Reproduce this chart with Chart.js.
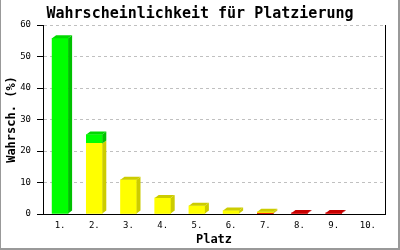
<!DOCTYPE html>
<html>
<head>
<meta charset="utf-8">
<script src="https://cdn.jsdelivr.net/npm/chart.js@4/dist/chart.umd.min.js"></script>
<style>
  html, body { margin: 0; padding: 0; background: #fff; }
  #wrap {
    position: relative; width: 400px; height: 250px; box-sizing: border-box;
    border-left: 1px solid #999; border-right: 2px solid #999; border-bottom: 2px solid #999;
  }
  #chart { position: absolute; left: -1px; top: 0; }
</style>
</head>
<body>
<div id="wrap"><canvas id="chart" width="400" height="250"></canvas></div>
<script>
const places = ['1.', '2.', '3.', '4.', '5.', '6.', '7.', '8.', '9.', '10.'];
const redVals = [0, 0, 0, 0, 0, 0, 0.25, 0.35, 0.35, 0];
const yellowVals = [0, 22.4, 10.9, 5.1, 2.6, 1.1, 0.45, 0, 0, 0];
const greenVals = [55.8, 2.8, 0, 0, 0, 0, 0, 0, 0, 0];
const yTicks = [0, 10, 20, 30, 40, 50, 60];

const mono = "'DejaVu Sans Mono', 'Liberation Mono', monospace";

// darker faces for the fake 3d look
const faces = [
  { side: '#b00000', top: '#c80000' },
  { side: '#cccc00', top: '#cccc00' },
  { side: '#00c000', top: '#00d800' },
];

const bar3d = {
  id: 'bar3d',
  afterDatasetsDraw(chart) {
    const ctx = chart.ctx;
    const dx = 4, dy = 3;
    const n = chart.data.labels.length;
    for (let idx = 0; idx < n; idx++) {
      // topmost segment gets the top face
      let topDs = -1;
      chart.data.datasets.forEach((ds, i) => { if (ds.data[idx] > 0) topDs = i; });
      chart.data.datasets.forEach((ds, i) => {
        if (!(ds.data[idx] > 0)) return;
        const el = chart.getDatasetMeta(i).data[idx];
        const { x, y, base, width } = el.getProps(['x', 'y', 'base', 'width'], true);
        const l = x - width / 2, r = x + width / 2;
        ctx.save();
        ctx.fillStyle = faces[i].side;
        ctx.beginPath();
        ctx.moveTo(r, y); ctx.lineTo(r + dx, y - dy); ctx.lineTo(r + dx, base - dy); ctx.lineTo(r, base);
        ctx.closePath(); ctx.fill();
        if (i === topDs) {
          ctx.fillStyle = faces[i].top;
          ctx.beginPath();
          ctx.moveTo(l, y); ctx.lineTo(l + dx, y - dy); ctx.lineTo(r + dx, y - dy); ctx.lineTo(r, y);
          ctx.closePath(); ctx.fill();
        }
        ctx.restore();
      });
    }
  }
};

const nz = (arr) => arr.map(v => v || null);

new Chart(document.getElementById('chart'), {
  type: 'bar',
  data: {
    labels: places,
    datasets: [
      { label: 'rot', data: nz(redVals), backgroundColor: '#dd0000' },
      { label: 'gelb', data: nz(yellowVals), backgroundColor: '#ffff00' },
      { label: 'grün', data: nz(greenVals), backgroundColor: '#00ff00' },
    ]
  },
  options: {
    responsive: false,
    animation: false,
    layout: { padding: { left: 0, right: 0, top: 0, bottom: 3 } },
    datasets: { bar: { barThickness: 16, borderWidth: 0 } },
    plugins: {
      legend: { display: false },
      tooltip: { enabled: false },
      title: {
        display: true,
        text: 'Wahrscheinlichkeit für Platzierung',
        color: '#000',
        font: { family: mono, size: 15, weight: 'bold', lineHeight: 1.2 },
        padding: { top: 5, bottom: 2 },
      },
    },
    scales: {
      x: {
        stacked: true,
        grid: { display: false, drawTicks: false },
        border: { color: '#000', width: 1 },
        ticks: { color: '#000', font: { family: mono, size: 9 }, padding: 6, maxRotation: 0 },
        title: {
          display: true, text: 'Platz', color: '#000',
          font: { family: mono, size: 12, weight: 'bold', lineHeight: 1.2 },
          padding: { top: 0, bottom: 0 },
        },
        afterFit(s) { s.height = 33; },
      },
      y: {
        stacked: true,
        min: 0, max: 60,
        afterBuildTicks(s) { s.ticks = yTicks.map(v => ({ value: v })); },
        grid: { color: '#c0c0c0', tickColor: '#000', tickLength: 6, drawTicks: true },
        border: { color: '#000', width: 1, dash: [3, 3] },
        ticks: { color: '#000', font: { family: mono, size: 9 }, padding: 6 },
        title: {
          display: true, text: 'Wahrsch. (%)', color: '#000',
          font: { family: mono, size: 12, weight: 'bold', lineHeight: 1.2 },
          padding: { top: 5, bottom: 0 },
        },
        afterFit(s) { s.width = 43; },
      },
      y2: {
        position: 'right',
        min: 0, max: 60,
        grid: { drawOnChartArea: false, drawTicks: false },
        border: { color: '#000', width: 1 },
        ticks: { display: false },
        afterFit(s) { s.width = 15; },
      },
    }
  },
  plugins: [bar3d]
});
</script>
</body>
</html>
